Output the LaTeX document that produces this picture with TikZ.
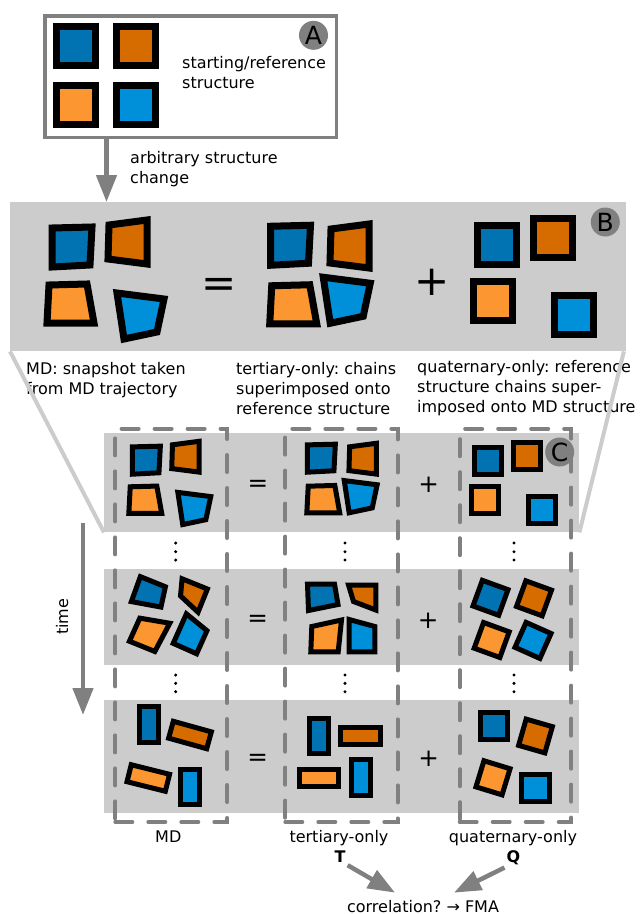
\documentclass[tikz,border=0pt]{standalone}
\usepackage{fontspec}
\setmainfont{DejaVu Sans}
\usetikzlibrary{arrows.meta}
\frenchspacing

\definecolor{chainA}{HTML}{0173B2}
\definecolor{chainB}{HTML}{D66C00}
\definecolor{chainC}{HTML}{FB9630}
\definecolor{chainD}{HTML}{0090DA}
\definecolor{panelgray}{HTML}{CCCCCC}
\definecolor{linegray}{HTML}{808080}

\newcommand\labfont{\fontsize{16}{20}\selectfont}
\newcommand\bigopfont{\fontsize{42}{42}\selectfont}
\newcommand\opfont{\fontsize{24.6}{25}\selectfont}
\newcommand\circfont{\fontsize{25}{25}\selectfont}

% one protein chain: centre x, centre y, rotation, scale, colour, outline
\newcommand\chainat[6]{%
  \begin{scope}[shift={(#1,#2)},rotate=#3,scale=#4]
    \path[chainline,fill=#5] #6 -- cycle;
  \end{scope}}

% chain outlines of the snapshot in panel B (relative to their centroids)
\newcommand\bDB[4]{\chainat{#1}{#2}{#3}{#4}{chainA}{(-19.5,-18.75) -- (20.5,-19.75) -- (18.5,18.25) -- (-19.5,20.25)}}
\newcommand\bDO[4]{\chainat{#1}{#2}{#3}{#4}{chainB}{(-18.5,-17) -- (19.5,-22) -- (19.5,22) -- (-19.5,17)}}
\newcommand\bLO[4]{\chainat{#1}{#2}{#3}{#4}{chainC}{(-20.25,-18.75) -- (17.75,-19.75) -- (24.75,19.25) -- (-22.25,19.25)}}
\newcommand\bLB[4]{\chainat{#1}{#2}{#3}{#4}{chainD}{(-23.5,-22.75) -- (23.5,-16.75) -- (16.5,16.25) -- (-16.5,23.25)}}
% chain outlines of the second snapshot
\newcommand\tDB[3]{\chainat{#1}{#2}{#3}{1}{chainA}{(-14.6,-11.75) -- (12.4,-11.75) -- (15.9,8.75) -- (-13.6,14.75)}}
\newcommand\tDO[3]{\chainat{#1}{#2}{#3}{1}{chainB}{(-14.9,-10.4) -- (12.4,-10.4) -- (12.4,14.6) -- (-9.9,6.1)}}
\newcommand\tLO[3]{\chainat{#1}{#2}{#3}{1}{chainC}{(-13.8,-11) -- (15.9,-17.5) -- (12.6,14.3) -- (-14.8,14.3)}}
\newcommand\tLB[3]{\chainat{#1}{#2}{#3}{1}{chainD}{(-12.8,-17.9) -- (12.8,-10.9) -- (12.8,14.4) -- (-12.8,14.4)}}
% reference chain (square) and the elongated chains of the last snapshot
\newcommand\sqr[5]{\chainat{#1}{#2}{#3}{#4}{#5}{(-19.5,-19.5) -- (19.5,-19.5) -- (19.5,19.5) -- (-19.5,19.5)}}
\newcommand\vrect[4]{\chainat{#1}{#2}{#3}{1}{#4}{(-9.25,-17.75) -- (9.25,-17.75) -- (9.25,17.75) -- (-9.25,17.75)}}
\newcommand\hrect[4]{\chainat{#1}{#2}{#3}{1}{#4}{(-19.75,-8.75) -- (19.75,-8.75) -- (19.75,8.75) -- (-19.75,8.75)}}

\begin{document}
\begin{tikzpicture}[x=1pt,y=-1pt,
  panel/.style={fill=panelgray,inner sep=0,anchor=north west},
  frameA/.style={draw=linegray,line width=3.3pt,fill=white,inner sep=0,anchor=north west},
  bigarrow/.style={draw=linegray,line width=4.5pt,-{Triangle[length=27pt,width=20pt]}},
  funnel/.style={draw=panelgray,line width=4pt},
  dashcol/.style={draw=linegray,line width=4pt,dash pattern=on 17pt off 16pt,line cap=round,inner sep=0,anchor=north west},
  txt/.style={inner sep=0,anchor=base west,font=\labfont},
  ctxt/.style={inner sep=0,anchor=base,font=\labfont},
  tag/.style={circle,fill=linegray,inner sep=0,minimum size=29pt,font=\circfont},
  bigop/.style={inner sep=0,anchor=base,font=\bigopfont},
  op/.style={inner sep=0,anchor=base,font=\opfont},
  chainline/.style={draw=black,line width=7pt,line join=miter}]
\useasboundingbox (0,0) rectangle (640,914);

% ---------- A: reference structure ----------
\node[frameA,minimum width=291.7pt,minimum height=121.7pt] (boxA) at (43.3,14.3) {};
\sqr{76.3}{46.2}{0}{1}{chainA}
\sqr{135.5}{46.2}{0}{1}{chainB}
\sqr{76.3}{104.7}{0}{1}{chainC}
\sqr{135.5}{104.7}{0}{1}{chainD}
\node[txt] (refA1) at (182,68) {starting/reference};
\node[txt] (refA2) at (182,88) {structure};
\node[tag] (tagA) at (313.5,35.3) {A};

% ---------- B: decomposition of one snapshot ----------
\node[panel,minimum width=616pt,minimum height=149pt] (panelB) at (10,202) {};
\coordinate (ax) at (106.5,0);
\draw[bigarrow] (boxA.south -| ax) -- (panelB.north -| ax);
\node[txt] (chg1) at (130,163.3) {arbitrary structure};
\node[txt] (chg2) at (130,183.3) {change};

\bDB{71.5}{246.75}{0}{1}
\bDO{127.5}{242}{0}{1}
\bLO{69.25}{303.75}{0}{1}
\bLB{140.5}{315.75}{0}{1}
\node[bigop] (eqB) at (218.7,297) {=};
\bDB{290}{245}{0}{1}
\bDO{349.5}{246}{0}{1}
\bLO{292}{304.5}{0}{1}
\bLB{346.75}{300}{0}{1}
\node[bigop] (plB) at (432,295.3) {+};
\sqr{497}{245}{0}{1}{chainA}
\sqr{552.5}{237.5}{0}{1}{chainB}
\sqr{493}{301}{0}{1}{chainC}
\sqr{574}{315}{0}{1}{chainD}
\node[tag] (tagB) at (605.3,222) {B};

\node[txt] (mdl1) at (26,374) {MD: snapshot taken};
\node[txt] (mdl2) at (26,394) {from MD trajectory};
\node[txt] (ttl1) at (236,374) {tertiary-only: chains};
\node[txt] (ttl2) at (236,394) {superimposed onto};
\node[txt] (ttl3) at (236,414) {reference structure};
\node[txt] (qtl1) at (417,372.5) {quaternary-only: reference};
\node[txt] (qtl2) at (417,392.5) {structure chains super-};
\node[txt] (qtl3) at (417,412.5) {imposed onto MD structure};

% ---------- C: time series ----------
\node[panel,minimum width=475pt,minimum height=99pt] (row1) at (104,433) {};
\node[panel,minimum width=475pt,minimum height=96pt] (row2) at (104,569) {};
\node[panel,minimum width=475pt,minimum height=113pt] (row3) at (104,700) {};
\draw[funnel] (panelB.south west) -- (row1.south west);
\draw[funnel] ([xshift=-2.5pt]panelB.south east) -- (row1.south east);

\node[dashcol,minimum width=112pt,minimum height=393.3pt] (colMD) at (113.3,426.7) {};
\node[dashcol,minimum width=112.4pt,minimum height=393.3pt] (colT) at (283.3,426.7) {};
\node[dashcol,minimum width=111.6pt,minimum height=393.3pt] (colQ) at (457.7,426.7) {};

\foreach \dx in {175.7,345,514}{
  \foreach \dy in {543,551.7,560,675,683.3,691.7}{
    \fill (\dx,\dy) circle[radius=1.7];
  }
}

\begin{scope}[chainline/.style={draw=black,line width=5pt,line join=miter}]
  % first snapshot
  \bDB{146}{460}{0}{0.7}
  \bDO{185.4}{456.7}{0}{0.7}
  \bLO{144.4}{499.9}{0}{0.7}
  \bLB{194.3}{508.3}{0}{0.7}
  \bDB{321}{458}{0}{0.7}
  \bDO{362.6}{458.7}{0}{0.7}
  \bLO{322.4}{499.3}{0}{0.7}
  \bLB{360.7}{496.5}{0}{0.7}
  \sqr{488}{461}{0}{0.7}{chainA}
  \sqr{527}{455.75}{0}{0.7}{chainB}
  \sqr{485}{500}{0}{0.7}{chainC}
  \sqr{542}{510}{0}{0.7}{chainD}
  % second snapshot
  \tDB{149.5}{593}{-22}
  \tDO{192}{594}{-22}
  \tLO{148.5}{633.5}{-22}
  \tLB{190.8}{635.4}{-24}
  \tDB{322.1}{595.75}{0}
  \tDO{363.4}{595.4}{0}
  \tLO{325.6}{637.5}{0}
  \tLB{362}{637.4}{0}
  \sqr{490.5}{597.8}{-20}{0.7}{chainA}
  \sqr{534}{598.3}{-20}{0.7}{chainB}
  \sqr{491.7}{640}{-20}{0.7}{chainC}
  \sqr{533}{640.4}{-24}{0.7}{chainD}
  % last snapshot
  \vrect{148.8}{724.5}{0}{chainA}
  \hrect{190}{735}{-15.5}{chainB}
  \hrect{148.3}{778}{-14}{chainC}
  \vrect{190}{787}{0}{chainD}
  \vrect{319}{736}{0}{chainA}
  \hrect{360.5}{736.2}{0}{chainB}
  \hrect{319.2}{777.8}{0}{chainC}
  \vrect{360.8}{777.7}{0}{chainD}
  \sqr{494.2}{725.8}{0}{0.7}{chainA}
  \sqr{535.5}{736}{-16}{0.7}{chainB}
  \sqr{493}{777.8}{-17}{0.7}{chainC}
  \sqr{535.5}{788.3}{0}{0.7}{chainD}
\end{scope}

\node[op] (eq1) at (258,491.7) {=};
\node[op] (pl1) at (428.7,492.4) {+};
\node[op] (eq2) at (257.7,626.7) {=};
\node[op] (pl2) at (428.3,628.4) {+};
\node[op] (eq3) at (257.7,765.7) {=};
\node[op] (pl3) at (428.7,766.7) {+};
\node[tag] (tagC) at (559.7,452) {C};

% time axis
\coordinate (tstart) at (83,523);
\coordinate (tend) at (83,715);
\draw[bigarrow] (tstart) -- (tend);
\node[txt,rotate=90] (timelab) at (68,635) {time};

% column labels and the final comparison
\node[ctxt] (lMD) at (168.3,842) {MD};
\node[ctxt] (lT) at (339,842) {tertiary-only};
\node[ctxt] (lQ) at (513,842) {quaternary-only};
\node[ctxt,font=\labfont\bfseries] (T) at (340,862) {T};
\node[ctxt,font=\labfont\bfseries] (Q) at (513.5,862) {Q};
\node[ctxt] (corr) at (423,912) {correlation? → FMA};
\draw[bigarrow] ([shift={(2,3)}]T.south east) -- ([shift={(-28,-7)}]corr.north);
\draw[bigarrow] ([shift={(-2,3)}]Q.south west) -- ([shift={(31,-7)}]corr.north);
\end{tikzpicture}
\end{document}
